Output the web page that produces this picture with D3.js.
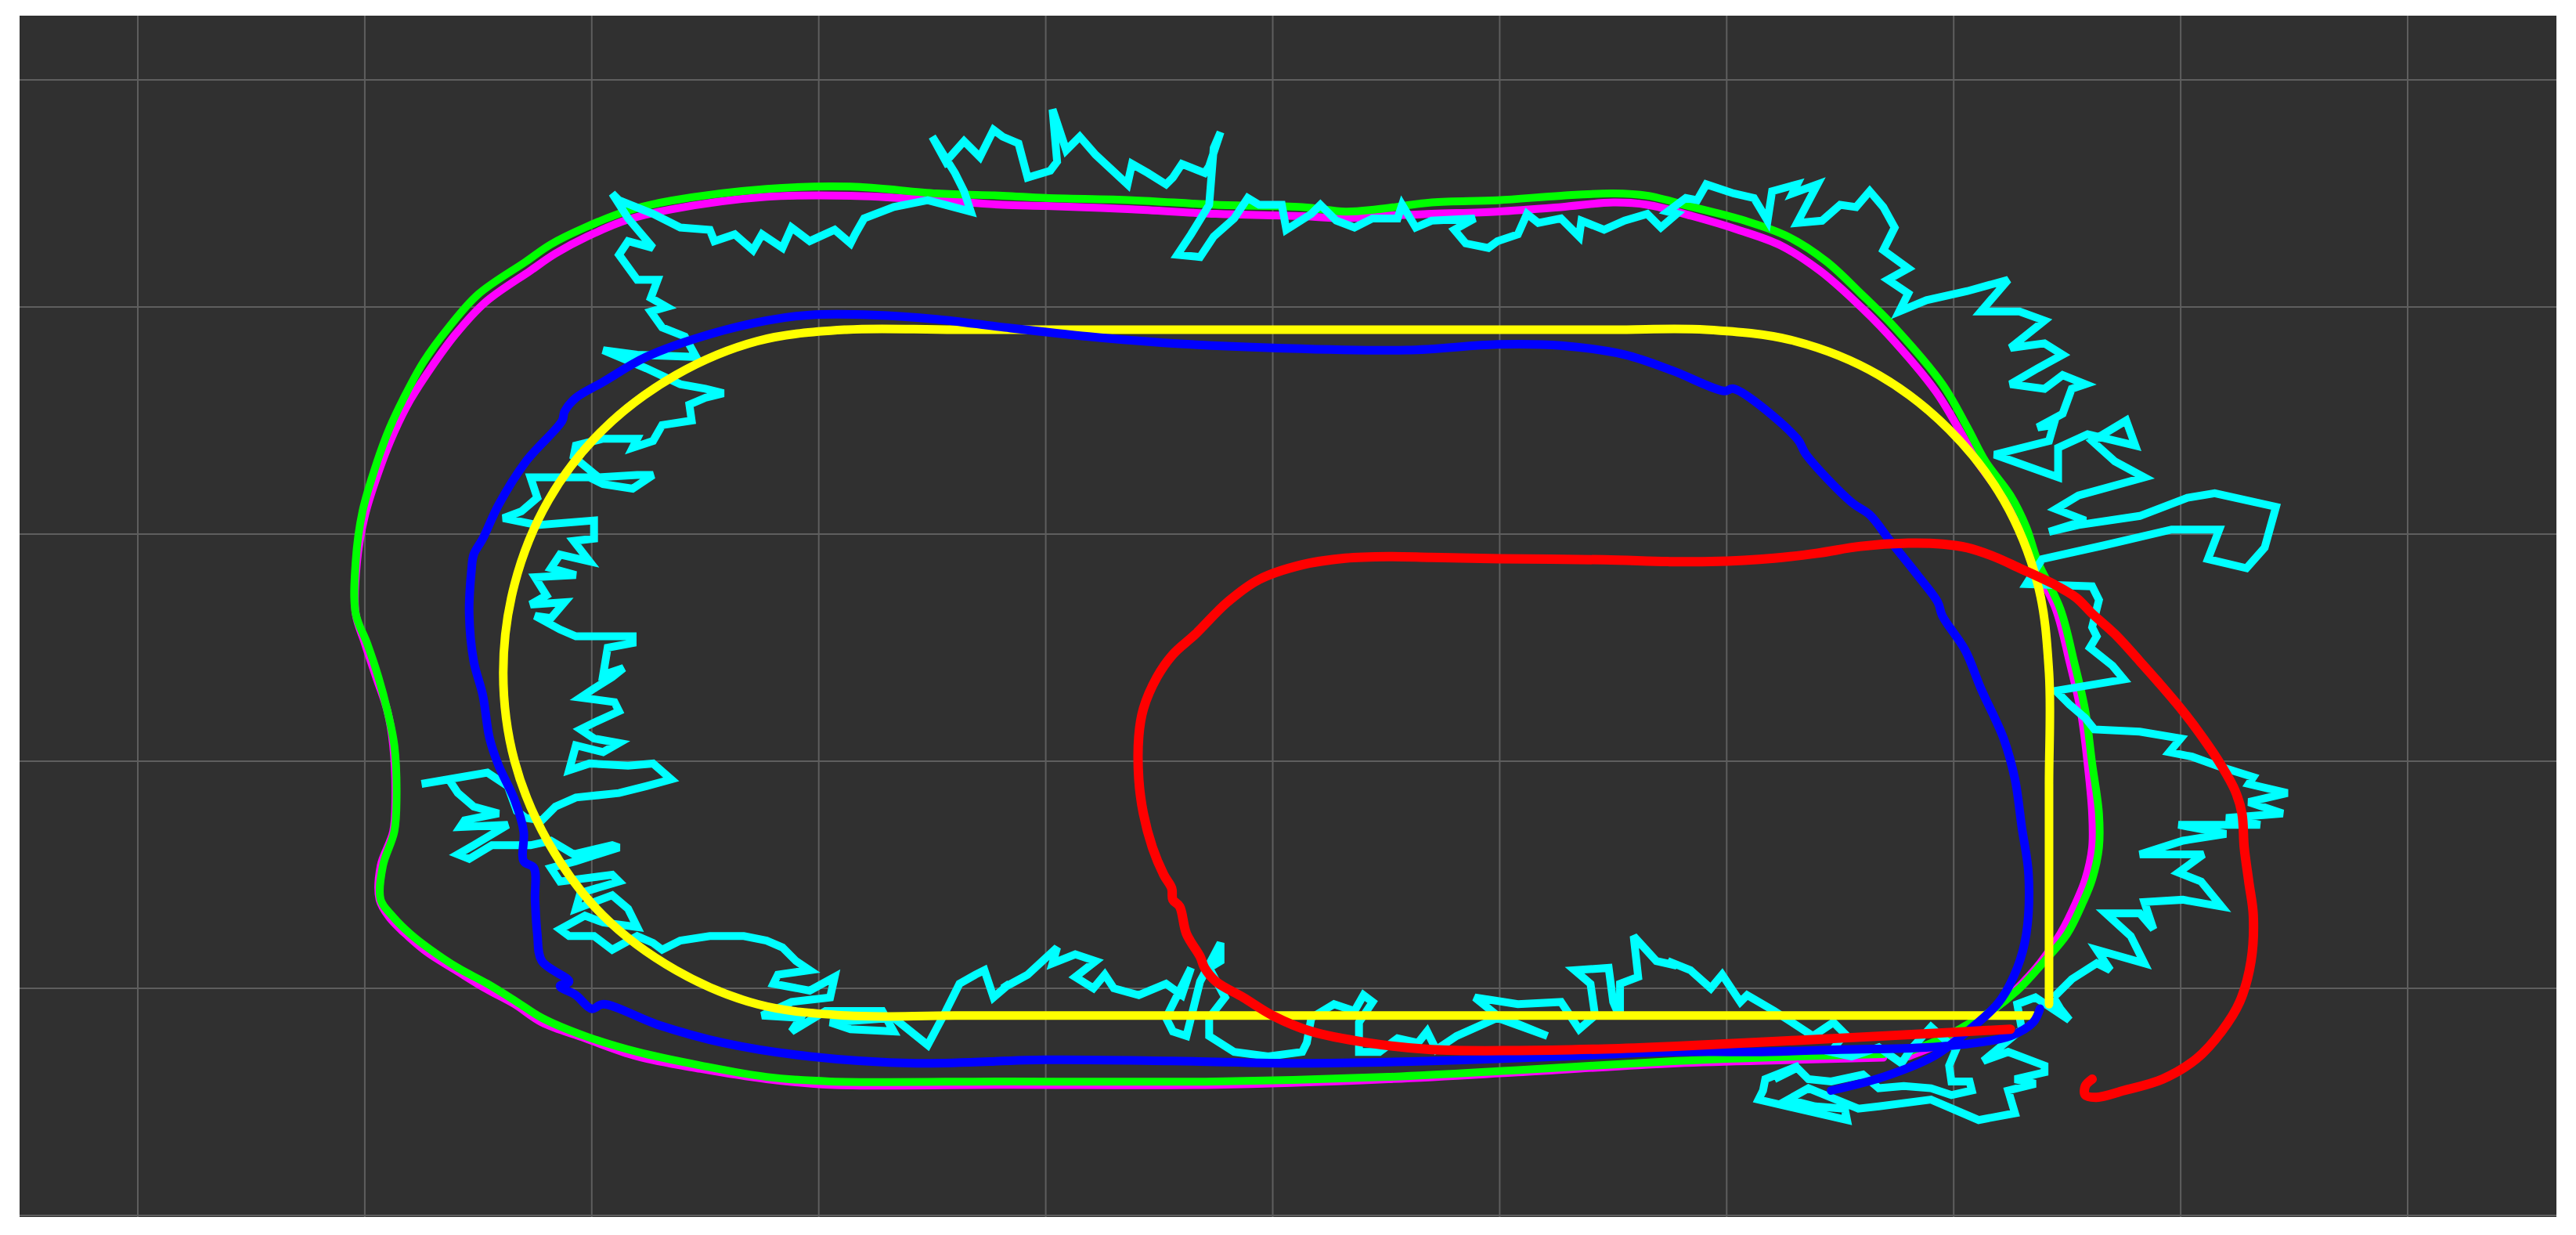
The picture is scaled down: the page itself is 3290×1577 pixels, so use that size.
<!DOCTYPE html>
<html><head><meta charset="utf-8">
<script src="https://cdn.jsdelivr.net/npm/d3@7"></script>
<style>html,body{margin:0;padding:0;background:#fff;} svg{display:block;}</style>
</head><body>
<svg id="chart" width="3290" height="1577"></svg>
<script>
// grid ticks (metres)
const gridX = [0,1,2,3,4,5,6,7,8,9,10];
const gridY = [-1,0,1,2,3,4];

// reference track (yellow)
const yellowTrack = [[8.35,-0.12],[7.5,-0.12],[6,-0.12],[4.5,-0.12],[3.6,-0.12],[3.12,-0.12],[2.73,-0.07],[2.37,0.08],[2.05,0.32],[1.81,0.64],[1.66,1.0],[1.61,1.39],[1.66,1.78],[1.81,2.15],[2.05,2.46],[2.37,2.70],[2.73,2.85],[3.12,2.90],[3.6,2.90],[4.5,2.90],[6,2.90],[6.5,2.90],[6.91,2.90],[7.30,2.85],[7.67,2.70],[7.98,2.46],[8.22,2.15],[8.37,1.78],[8.42,1.39],[8.42,0.9],[8.42,0.4],[8.42,-0.07]];

// green trajectory
const greenTrack = [[7.80,-0.28],[7.95,-0.22],[8.06,-0.16],[8.18,-0.09],[8.29,0.0],[8.40,0.12],[8.50,0.24],[8.57,0.38],[8.61,0.48],[8.64,0.62],[8.64,0.77],[8.61,0.99],[8.58,1.22],[8.53,1.44],[8.47,1.67],[8.37,1.88],[8.32,2.03],[8.25,2.17],[8.14,2.32],[8.06,2.47],[7.95,2.66],[7.74,2.91],[7.59,3.06],[7.44,3.20],[7.27,3.31],[7.08,3.38],[6.85,3.44],[6.65,3.49],[6.50,3.50],[6.27,3.49],[5.99,3.47],[5.70,3.46],[5.46,3.43],[5.32,3.42],[5.13,3.44],[4.75,3.45],[4.38,3.47],[4.0,3.48],[3.81,3.49],[3.52,3.50],[3.14,3.53],[2.77,3.52],[2.35,3.468],[2.16,3.424],[1.97,3.35],[1.82,3.276],[1.71,3.20],[1.50,3.056],[1.37,2.91],[1.26,2.76],[1.18,2.615],[1.11,2.468],[1.055,2.32],[0.99,2.10],[0.96,1.88],[0.96,1.65],[1.01,1.52],[1.06,1.37],[1.10,1.22],[1.13,1.07],[1.14,0.84],[1.13,0.69],[1.08,0.54],[1.07,0.39],[1.12,0.32],[1.20,0.24],[1.29,0.17],[1.41,0.09],[1.54,0.02],[1.67,-0.06],[1.78,-0.13],[1.97,-0.21],[2.20,-0.28],[2.48,-0.34],[2.77,-0.39],[3.05,-0.41],[3.84,-0.41],[4.75,-0.41],[5.51,-0.39],[6.08,-0.36],[6.78,-0.32],[7.31,-0.30],[7.69,-0.29]];

// magenta trajectory
const magentaTrack = [[7.80,-0.30],[7.95,-0.24],[8.06,-0.18],[8.17,-0.10],[8.27,-0.01],[8.38,0.11],[8.47,0.24],[8.54,0.38],[8.58,0.48],[8.61,0.62],[8.61,0.77],[8.59,0.99],[8.56,1.22],[8.51,1.44],[8.45,1.67],[8.35,1.88],[8.30,2.02],[8.22,2.16],[8.11,2.31],[8.03,2.45],[7.92,2.63],[7.71,2.88],[7.56,3.03],[7.41,3.16],[7.24,3.27],[7.05,3.34],[6.85,3.40],[6.65,3.45],[6.50,3.46],[6.27,3.44],[5.99,3.42],[5.70,3.41],[5.46,3.40],[5.32,3.39],[5.13,3.40],[4.75,3.41],[4.38,3.43],[4.0,3.445],[3.81,3.45],[3.52,3.47],[3.14,3.49],[2.77,3.485],[2.35,3.43],[2.16,3.385],[1.98,3.31],[1.84,3.235],[1.73,3.16],[1.53,3.02],[1.40,2.88],[1.29,2.73],[1.20,2.59],[1.13,2.45],[1.07,2.30],[1.0,2.08],[0.965,1.87],[0.96,1.65],[1.0,1.52],[1.05,1.37],[1.10,1.22],[1.125,1.07],[1.135,0.84],[1.125,0.69],[1.07,0.54],[1.065,0.39],[1.11,0.31],[1.19,0.23],[1.28,0.155],[1.40,0.08],[1.53,0.0],[1.66,-0.07],[1.78,-0.15],[1.97,-0.22],[2.20,-0.30],[2.48,-0.355],[2.77,-0.40],[3.05,-0.425],[3.84,-0.425],[4.75,-0.425],[5.51,-0.40],[6.08,-0.37],[6.78,-0.33],[7.31,-0.315],[7.69,-0.305]];

// blue trajectory
const blueTrack = [[8.38,-0.09],[8.35,-0.15],[8.25,-0.21],[8.10,-0.24],[7.88,-0.26],[7.50,-0.27],[7.12,-0.28],[6.74,-0.28],[6.27,-0.30],[5.70,-0.32],[5.13,-0.33],[4.56,-0.32],[4.0,-0.315],[3.43,-0.33],[2.96,-0.30],[2.58,-0.24],[2.29,-0.16],[2.05,-0.07],[2.0,-0.09],[1.93,-0.03],[1.86,0.01],[1.90,0.03],[1.78,0.12],[1.76,0.24],[1.75,0.39],[1.745,0.53],[1.70,0.56],[1.70,0.69],[1.66,0.83],[1.59,0.98],[1.55,1.10],[1.52,1.29],[1.48,1.44],[1.46,1.65],[1.47,1.84],[1.48,1.91],[1.52,1.98],[1.59,2.13],[1.71,2.32],[1.87,2.50],[1.88,2.54],[1.93,2.60],[2.05,2.67],[2.24,2.78],[2.52,2.88],[2.77,2.94],[2.96,2.965],[3.24,2.965],[3.52,2.946],[3.82,2.91],[4.19,2.87],[4.56,2.84],[5.0,2.82],[5.59,2.81],[5.99,2.835],[6.27,2.83],[6.55,2.79],[6.76,2.72],[6.99,2.63],[7.03,2.64],[7.31,2.42],[7.35,2.35],[7.55,2.14],[7.63,2.085],[7.72,1.97],[7.84,1.82],[7.93,1.70],[7.95,1.64],[8.05,1.49],[8.12,1.32],[8.22,1.10],[8.27,0.92],[8.30,0.71],[8.33,0.50],[8.32,0.24],[8.28,0.09],[8.20,-0.06],[8.06,-0.19],[7.91,-0.30],[7.69,-0.39],[7.46,-0.45]];

// red trajectory
const redTrack = [[8.61,-0.40],[8.58,-0.43],[8.58,-0.47],[8.63,-0.48],[8.75,-0.45],[8.92,-0.40],[9.07,-0.31],[9.18,-0.19],[9.26,-0.06],[9.31,0.12],[9.32,0.32],[9.30,0.47],[9.28,0.62],[9.27,0.77],[9.24,0.87],[9.18,0.98],[9.10,1.10],[9.01,1.22],[8.90,1.35],[8.82,1.44],[8.71,1.56],[8.61,1.65],[8.54,1.72],[8.44,1.78],[8.29,1.85],[8.18,1.90],[8.06,1.94],[7.95,1.956],[7.80,1.96],[7.59,1.946],[7.40,1.916],[7.21,1.894],[6.93,1.879],[6.74,1.879],[6.46,1.887],[6.0,1.891],[5.70,1.897],[5.51,1.901],[5.32,1.894],[5.13,1.865],[4.94,1.80],[4.80,1.70],[4.66,1.56],[4.56,1.47],[4.49,1.37],[4.43,1.23],[4.41,1.11],[4.41,0.92],[4.43,0.77],[4.47,0.62],[4.52,0.50],[4.555,0.44],[4.56,0.39],[4.59,0.36],[4.62,0.24],[4.68,0.14],[4.70,0.09],[4.75,0.03],[4.87,-0.04],[5.0,-0.12],[5.17,-0.19],[5.42,-0.24],[5.70,-0.27],[6.08,-0.274],[6.46,-0.267],[6.76,-0.256],[7.31,-0.229],[7.88,-0.20],[8.25,-0.18]];

// cyan (noisy) trajectory
const cyanTrack = [[8.44,-0.04],[8.52,0.04],[8.63,0.11],[8.69,0.08],[8.63,0.17],[8.84,0.11],[8.78,0.23],[8.67,0.33],[8.82,0.33],[8.88,0.26],[8.84,0.38],[9.01,0.39],[9.18,0.36],[9.09,0.47],[8.99,0.51],[9.10,0.59],[8.82,0.59],[9.01,0.65],[9.20,0.68],[8.99,0.72],[9.35,0.72],[9.20,0.75],[9.45,0.77],[9.30,0.82],[9.47,0.86],[9.30,0.90],[9.32,0.93],[9.16,0.98],[9.05,1.02],[8.95,1.04],[9.0,1.10],[8.82,1.13],[8.62,1.14],[8.58,1.19],[8.51,1.25],[8.45,1.31],[8.75,1.36],[8.70,1.42],[8.60,1.50],[8.63,1.55],[8.61,1.59],[8.64,1.71],[8.61,1.77],[8.32,1.78],[8.39,1.89],[8.66,1.95],[8.96,2.02],[9.17,2.02],[9.12,1.89],[9.29,1.85],[9.37,1.94],[9.42,2.12],[9.15,2.18],[9.03,2.16],[8.82,2.08],[8.55,2.04],[8.42,2.01],[8.58,2.06],[8.45,2.11],[8.55,2.17],[8.84,2.25],[8.71,2.32],[8.61,2.41],[8.76,2.50],[8.80,2.39],[8.59,2.44],[8.46,2.38],[8.46,2.25],[8.18,2.35],[8.42,2.41],[8.44,2.48],[8.37,2.47],[8.48,2.53],[8.52,2.64],[8.58,2.66],[8.48,2.70],[8.40,2.64],[8.25,2.66],[8.37,2.73],[8.48,2.79],[8.40,2.84],[8.25,2.82],[8.40,2.94],[8.29,2.98],[8.12,2.98],[8.24,3.12],[8.06,3.07],[7.88,3.03],[7.76,2.98],[7.80,3.06],[7.71,3.12],[7.80,3.17],[7.69,3.25],[7.74,3.35],[7.69,3.44],[7.63,3.51],[7.57,3.44],[7.50,3.45],[7.42,3.38],[7.31,3.37],[7.40,3.54],[7.29,3.50],[7.31,3.54],[7.20,3.51],[7.18,3.38],[7.12,3.48],[7.03,3.50],[6.91,3.54],[6.87,3.47],[6.82,3.48],[6.74,3.42],
[6.78,3.41],[6.71,3.35],[6.65,3.41],[6.55,3.38],[6.46,3.34],[6.36,3.38],[6.35,3.31],[6.27,3.39],[6.17,3.37],[6.12,3.41],[6.08,3.32],[5.99,3.29],[5.95,3.26],[5.85,3.28],[5.80,3.34],[5.89,3.39],[5.70,3.38],[5.63,3.35],[5.57,3.45],[5.55,3.39],[5.44,3.39],[5.36,3.35],[5.28,3.38],[5.21,3.45],[5.17,3.41],[5.06,3.34],[5.04,3.45],[4.94,3.45],[4.89,3.48],[4.83,3.39],[4.74,3.31],[4.68,3.22],[4.58,3.23],[4.64,3.32],[4.72,3.45],[4.74,3.70],[4.77,3.77],[4.72,3.62],[4.70,3.59],[4.60,3.63],[4.56,3.57],[4.53,3.54],[4.45,3.59],[4.38,3.63],[4.36,3.54],[4.22,3.67],[4.15,3.75],[4.09,3.69],[4.03,3.87],[4.05,3.64],[4.02,3.60],[3.92,3.57],[3.88,3.72],[3.81,3.75],
[3.77,3.78],[3.71,3.66],[3.64,3.73],[3.56,3.64],[3.50,3.75],[3.60,3.59],[3.64,3.51],[3.67,3.42],[3.48,3.47],[3.33,3.44],[3.20,3.39],[3.16,3.32],[3.14,3.28],[3.07,3.34],[2.96,3.29],[2.88,3.35],[2.84,3.26],[2.75,3.32],[2.71,3.25],[2.63,3.32],[2.54,3.29],[2.52,3.34],[2.39,3.35],[2.27,3.41],[2.12,3.47],[2.09,3.50],[2.16,3.39],[2.27,3.26],[2.16,3.29],[2.12,3.23],[2.20,3.12],[2.29,3.12],[2.26,3.04],[2.33,3.0],[2.26,2.98],[2.31,2.91],[2.41,2.87],[2.46,2.78],[2.20,2.79],[2.05,2.81],[2.24,2.73],[2.39,2.66],[2.50,2.64],[2.58,2.62],[2.50,2.60],[2.43,2.57],[2.44,2.50],[2.31,2.48],[2.27,2.41],[2.18,2.38],[2.20,2.42],[2.05,2.42],[1.93,2.39],[1.92,2.34],[2.03,2.25],[2.20,2.26],[2.27,2.26],[2.18,2.20],[2.05,2.22],[1.99,2.25],[1.86,2.25],[1.73,2.25],[1.76,2.16],[1.69,2.10],[1.61,2.07],[1.76,2.04],[2.01,2.06],[2.01,1.98],[1.92,1.97],[1.99,1.88],[1.86,1.91],[1.82,1.85],[1.93,1.82],[1.75,1.81],[1.80,1.73],[1.73,1.69],[1.88,1.70],[1.82,1.63],
[1.75,1.64],[1.86,1.58],[1.93,1.55],[2.18,1.55],[2.18,1.52],[2.07,1.50],[2.05,1.38],[2.14,1.41],[2.09,1.37],[2.01,1.32],[1.95,1.28],[2.10,1.26],[2.12,1.22],[2.01,1.17],[1.95,1.14],[2.01,1.10],[2.12,1.08],[2.05,1.04],[1.93,1.07],[1.90,0.96],[1.99,0.99],[2.16,0.98],[2.27,0.99],[2.35,0.92],[2.24,0.89],[2.12,0.86],[1.93,0.84],[1.84,0.80],[1.78,0.74],[1.71,0.75],[1.67,0.78],[1.63,0.89],[1.54,0.95],[1.25,0.90],[1.37,0.92],[1.41,0.86],[1.48,0.80],[1.59,0.77],[1.44,0.74],[1.42,0.71],[1.63,0.72],[1.48,0.63],[1.41,0.59],[1.46,0.57],[1.56,0.63],[1.73,0.63],[1.82,0.65],[1.92,0.59],[2.09,0.63],[2.12,0.62],[1.93,0.56],[1.82,0.53],[1.86,0.47],[2.09,0.50],[2.12,0.47],[1.95,0.42],[1.93,0.35],[2.09,0.41],[2.16,0.35],[2.20,0.27],[2.05,0.29],[1.97,0.32],[1.86,0.26],[1.90,0.23],[2.01,0.23],[2.09,0.17],[2.20,0.23],[2.27,0.20],[2.31,0.17],[2.39,0.21],[2.52,0.23],[2.67,0.23],[2.77,0.21],[2.84,0.18],[2.90,0.12],[2.96,0.08],[2.82,0.06],[2.80,0.02],[2.96,-0.01],[3.07,0.05],[3.05,-0.04],[2.88,-0.06],[2.75,-0.12],[2.92,-0.13],[2.88,-0.19],[3.03,-0.10],[3.14,-0.10],[3.28,-0.10],[3.33,-0.19],[3.14,-0.18],[3.05,-0.15],[3.33,-0.13],[3.48,-0.25],[3.56,-0.10],[3.62,0.02],[3.69,0.06],[3.73,0.08],[3.77,-0.04],[3.84,0.02],
[3.81,0.0],[3.92,0.06],[4.05,0.18],[4.03,0.11],[4.13,0.15],[4.22,0.12],[4.13,0.05],[4.21,0.0],[4.26,0.06],[4.30,0.0],[4.41,-0.03],[4.53,0.02],[4.60,-0.03],[4.64,0.09],[4.56,-0.07],[4.53,-0.13],[4.56,-0.19],[4.62,-0.21],[4.64,-0.13],[4.68,0.03],[4.77,0.20],[4.77,0.12],[4.72,0.09],[4.79,-0.04],[4.72,-0.13],[4.72,-0.21],[4.83,-0.28],[4.98,-0.30],[5.13,-0.28],[5.15,-0.24],[5.17,-0.13],[5.27,-0.07],[5.36,-0.10],[5.40,-0.03],[5.44,-0.06],[5.38,-0.15],[5.38,-0.28],[5.47,-0.28],[5.55,-0.22],[5.64,-0.24],[5.68,-0.19],[5.72,-0.27],[5.81,-0.21],[5.99,-0.13],[6.21,-0.21],[5.99,-0.12],[5.89,-0.04],[6.08,-0.07],[6.27,-0.06],[6.35,-0.18],[6.42,-0.12],[6.40,0.02],[6.33,0.08],[6.48,0.09],[6.50,-0.06],[6.53,-0.13],[6.53,0.02],[6.61,0.05],[6.59,0.23],[6.69,0.12],[6.78,0.10],
[6.74,0.12],[6.84,0.08],[6.93,0.0],[6.98,0.06],[7.06,-0.06],[7.09,-0.03],[7.21,-0.10],[7.38,-0.21],[7.47,-0.15],[7.52,-0.20],[7.46,-0.28],[7.55,-0.30],[7.67,-0.26],[7.77,-0.33],[7.81,-0.27],[7.90,-0.17],[8.01,-0.27],[7.98,-0.34],[7.99,-0.41],[8.07,-0.41],[8.08,-0.45],[7.99,-0.47],[7.90,-0.44],[7.78,-0.43],[7.67,-0.44],[7.60,-0.38],[7.46,-0.41],[7.36,-0.40],[7.31,-0.35],[7.21,-0.40],[7.32,-0.34],[7.17,-0.40],[7.16,-0.45],[7.14,-0.49],[7.53,-0.58],[7.52,-0.53],[7.39,-0.52],[7.27,-0.49],[7.36,-0.44],[7.58,-0.53],[7.67,-0.52],[7.90,-0.49],[8.11,-0.58],[8.27,-0.55],[8.24,-0.45],[8.36,-0.42],[8.27,-0.40],[8.40,-0.37],[8.40,-0.34],[8.24,-0.28],[8.13,-0.32],[8.30,-0.18],[8.28,-0.07],[8.36,-0.04],[8.51,-0.14],[8.47,-0.09],[8.44,-0.04]];

const seriesList = [
  {name:"magenta", data:magentaTrack, color:"#ff00ff", width:10, smooth:true},
  {name:"green",   data:greenTrack,   color:"#00ff00", width:10, smooth:true},
  {name:"cyan",    data:cyanTrack,    color:"#00ffff", width:10, smooth:false},
  {name:"yellow",  data:yellowTrack,  color:"#ffff00", width:11, smooth:true},
  {name:"blue",    data:blueTrack,    color:"#0000ff", width:11, smooth:true},
  {name:"red",     data:redTrack,     color:"#ff0000", width:12, smooth:true}
];

const svg = d3.select("#chart");
const plot = {left:25, top:20, right:3265, bottom:1554};
const x = d3.scaleLinear().domain([0,10]).range([176,3075]);
const y = d3.scaleLinear().domain([-1,4]).range([1552,102]);

svg.append("rect").attr("x",plot.left).attr("y",plot.top)
  .attr("width",plot.right-plot.left).attr("height",plot.bottom-plot.top)
  .attr("fill","#303030");

const grid = svg.append("g").attr("stroke","#5e5e5e").attr("stroke-width",2);
grid.selectAll("line.v").data(gridX).join("line").attr("class","v")
  .attr("x1",d=>x(d)).attr("x2",d=>x(d)).attr("y1",plot.top).attr("y2",plot.bottom);
grid.selectAll("line.h").data(gridY).join("line").attr("class","h")
  .attr("y1",d=>y(d)).attr("y2",d=>y(d)).attr("x1",plot.left).attr("x2",plot.right);

svg.append("clipPath").attr("id","clip").append("rect")
  .attr("x",plot.left).attr("y",plot.top).attr("width",plot.right-plot.left).attr("height",plot.bottom-plot.top);

const g = svg.append("g").attr("clip-path","url(#clip)");
seriesList.forEach(s => {
  const line = d3.line().x(d=>x(d[0])).y(d=>y(d[1]))
    .curve(s.smooth ? d3.curveCatmullRom.alpha(0.5) : d3.curveLinear);
  g.append("path").datum(s.data)
    .attr("d", line)
    .attr("fill","none")
    .attr("stroke", s.color)
    .attr("stroke-width", s.width)
    .attr("stroke-linejoin", s.smooth ? "round" : "miter")
    .attr("stroke-miterlimit", 3)
    .attr("stroke-linecap", s.smooth ? "round" : "butt");
});
</script>
</body></html>
